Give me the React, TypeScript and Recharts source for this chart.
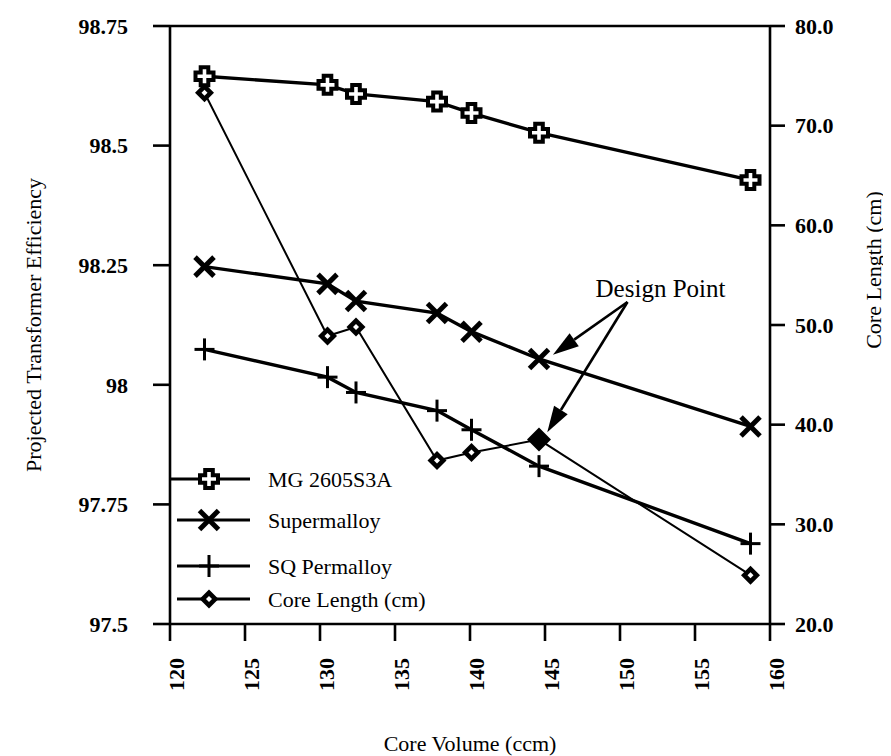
import React from 'react';
import { LineChart, Line, XAxis, YAxis, ReferenceLine, ReferenceDot, Legend } from 'recharts';

// ---- data ----
const coreVolume = [122.3, 130.5, 132.4, 137.8, 140.1, 144.6, 158.7];
const mgEfficiency = [98.645, 98.627, 98.608, 98.592, 98.568, 98.527, 98.428];
const supermalloyEfficiency = [98.247, 98.211, 98.175, 98.15, 98.111, 98.054, 97.913];
const sqPermalloyEfficiency = [98.074, 98.016, 97.984, 97.946, 97.906, 97.83, 97.668];
const coreLength = [73.3, 48.9, 49.8, 36.4, 37.2, 38.5, 24.9];
const designIndex = 5;

const xTicks = [120, 125, 130, 135, 140, 145, 150, 155, 160];
const leftTicks = [97.5, 97.75, 98, 98.25, 98.5, 98.75];
const rightTicks = [20, 30, 40, 50, 60, 70, 80];
const seriesNames = ['MG 2605S3A', 'Supermalloy', 'SQ Permalloy', 'Core Length (cm)'];
const annotationText = 'Design Point';
const annotationOrigin = { x: 150.5, y: 98.173 };
const annotationTextPos = { x: 152.7, y: 98.202 };

const data = coreVolume.map((v, i) => ({
  vol: v,
  mg: mgEfficiency[i],
  sup: supermalloyEfficiency[i],
  sq: sqPermalloyEfficiency[i],
  len: coreLength[i],
}));

const SERIF = '"Liberation Serif", "Times New Roman", serif';
const INK = '#000';

// ---- markers ----
const MgMark = ({ cx, cy }: any) => {
  const a = 3.8, b = 9;
  const d = `M${cx - a},${cy - b} H${cx + a} V${cy - a} H${cx + b} V${cy + a} H${cx + a} V${cy + b} H${cx - a} V${cy + a} H${cx - b} V${cy - a} H${cx - a} Z`;
  return <path d={d} fill="#fff" stroke={INK} strokeWidth={4} strokeLinejoin="miter" />;
};
const XMark = ({ cx, cy }: any) => {
  const s = 9.5;
  return (
    <g stroke={INK} strokeWidth={5} strokeLinecap="butt">
      <line x1={cx - s} y1={cy - s} x2={cx + s} y2={cy + s} />
      <line x1={cx - s} y1={cy + s} x2={cx + s} y2={cy - s} />
    </g>
  );
};
const PlusMark = ({ cx, cy }: any) => (
  <g stroke={INK} strokeWidth={3}>
    <line x1={cx} y1={cy - 11} x2={cx} y2={cy + 11} />
    <line x1={cx - 10} y1={cy} x2={cx + 10} y2={cy} />
  </g>
);
const DiamondMark = ({ cx, cy, solid }: any) => {
  const s = solid ? 12 : 9.5, t = 3;
  return (
    <g>
      <path d={`M${cx},${cy - s} L${cx + s},${cy} L${cx},${cy + s} L${cx - s},${cy} Z`} fill={INK} />
      {!solid && <path d={`M${cx},${cy - t} L${cx + t},${cy} L${cx},${cy + t} L${cx - t},${cy} Z`} fill="#fff" />}
    </g>
  );
};

const renderMg = (p: any) => <MgMark key={`mg-${p.index}`} cx={p.cx} cy={p.cy} />;
const renderX = (p: any) => <XMark key={`x-${p.index}`} cx={p.cx} cy={p.cy} />;
const renderPlus = (p: any) => <PlusMark key={`p-${p.index}`} cx={p.cx} cy={p.cy} />;
const renderDiamond = (p: any) => (
  <DiamondMark key={`d-${p.index}`} cx={p.cx} cy={p.cy} solid={p.index === designIndex} />
);

// ---- ticks ----
const XTick = ({ x, y, payload }: any) => (
  <text
    x={x + 6}
    y={y + 15}
    transform={`rotate(-90, ${x + 6}, ${y + 15})`}
    textAnchor="end"
    dominantBaseline="central"
    fontFamily={SERIF}
    fontWeight="bold"
    fontSize={22}
    fill={INK}
  >
    {payload.value}
  </text>
);

const tickStyle = { fill: INK, fontSize: 22, fontWeight: 'bold', fontFamily: SERIF };

// ---- arrows ----
const Arrow = (p: any) => {
  const { x1, y1, x2, y2 } = p;
  const dx = x2 - x1, dy = y2 - y1;
  const len = Math.sqrt(dx * dx + dy * dy);
  const ux = dx / len, uy = dy / len;
  const hl = 26, hw = 8;
  const bx = x2 - ux * hl, by = y2 - uy * hl;
  return (
    <g>
      <line x1={x1} y1={y1} x2={bx} y2={by} stroke={INK} strokeWidth={2.6} />
      <path
        d={`M${x2},${y2} L${bx - uy * hw},${by + ux * hw} L${bx + uy * hw},${by - ux * hw} Z`}
        fill={INK}
      />
    </g>
  );
};

// ---- legend ----
const legendMarks = [
  (cx: number, cy: number) => <MgMark cx={cx} cy={cy} />,
  (cx: number, cy: number) => <XMark cx={cx} cy={cy} />,
  (cx: number, cy: number) => <PlusMark cx={cx} cy={cy} />,
  (cx: number, cy: number) => <DiamondMark cx={cx} cy={cy} />,
];
const legendRows = [31, 72, 118, 151];
const LegendContent = () => (
  <svg width={330} height={170} style={{ display: 'block' }}>
    {seriesNames.map((name, i) => {
      const y = legendRows[i];
      const x0 = i === 0 ? 12 : 19;
      return (
        <g key={name}>
          <line x1={x0} y1={y} x2={92} y2={y} stroke={INK} strokeWidth={3.2} />
          {legendMarks[i](51, y)}
          <text x={110} y={y} dominantBaseline="central" fontFamily={SERIF} fontSize={22} fill={INK}>
            {name}
          </text>
        </g>
      );
    })}
  </svg>
);

// ---- axis titles ----
const LeftTitle = (props: any) => {
  const vb = props.viewBox;
  const x = vb.x - 77;
  const y = vb.y + vb.height / 2;
  return (
    <text x={x} y={y} transform={`rotate(-90, ${x}, ${y})`} textAnchor="middle" dominantBaseline="central"
      fontFamily={SERIF} fontSize={22} fill={INK}>
      Projected Transformer Efficiency
    </text>
  );
};
const RightTitle = (props: any) => {
  const vb = props.viewBox;
  const x = vb.x + 103;
  const y = vb.y + vb.height / 2 - 55;
  return (
    <text x={x} y={y} transform={`rotate(-90, ${x}, ${y})`} textAnchor="middle" dominantBaseline="central"
      fontFamily={SERIF} fontSize={22} fill={INK}>
      Core Length (cm)
    </text>
  );
};
const BottomTitle = (props: any) => {
  const vb = props.viewBox;
  return (
    <text x={vb.x + vb.width / 2} y={vb.y + 119} textAnchor="middle" dominantBaseline="central"
      fontFamily={SERIF} fontSize={22} fill={INK}>
      Core Volume (ccm)
    </text>
  );
};

const axisLine = { stroke: INK, strokeWidth: 2.6 };

export default function App() {
  return (
    <div style={{ width: 883, height: 748, background: '#fff' }}>
      <LineChart width={883} height={748} data={data} margin={{ top: 18, right: 61, bottom: 72, left: 102 }}>
        <XAxis
          dataKey="vol"
          type="number"
          domain={[120, 160]}
          ticks={xTicks}
          allowDataOverflow
          height={60}
          tickSize={17}
          axisLine={axisLine}
          tickLine={axisLine}
          tick={<XTick />}
          interval={0}
          label={{ value: 'Core Volume (ccm)', content: BottomTitle }}
        />
        <YAxis
          yAxisId="left"
          domain={[97.5, 98.75]}
          ticks={leftTicks}
          allowDataOverflow
          width={60}
          tickSize={17}
          axisLine={axisLine}
          tickLine={axisLine}
          tick={tickStyle}
          tickMargin={25}
          interval={0}
          label={{ value: 'Projected Transformer Efficiency', content: LeftTitle }}
        />
        <YAxis
          yAxisId="right"
          orientation="right"
          domain={[20, 80]}
          ticks={rightTicks}
          allowDataOverflow
          width={60}
          tickSize={15}
          axisLine={axisLine}
          tickLine={axisLine}
          tick={tickStyle}
          tickMargin={10}
          tickFormatter={(v: number) => v.toFixed(1)}
          interval={0}
          label={{ value: 'Core Length (cm)', content: RightTitle }}
        />
        <ReferenceLine yAxisId="left" y={98.75} stroke={INK} strokeWidth={2.6} />
        <Line yAxisId="right" dataKey="len" name={seriesNames[3]} stroke={INK} strokeWidth={2}
          dot={renderDiamond} isAnimationActive={false} type="linear" />
        <Line yAxisId="left" dataKey="sq" name={seriesNames[2]} stroke={INK} strokeWidth={3.4}
          dot={renderPlus} isAnimationActive={false} type="linear" />
        <Line yAxisId="left" dataKey="sup" name={seriesNames[1]} stroke={INK} strokeWidth={3.4}
          dot={renderX} isAnimationActive={false} type="linear" />
        <Line yAxisId="left" dataKey="mg" name={seriesNames[0]} stroke={INK} strokeWidth={3.4}
          dot={renderMg} isAnimationActive={false} type="linear" />
        <ReferenceLine
          yAxisId="left"
          segment={[annotationOrigin, { x: coreVolume[designIndex] + 0.93, y: supermalloyEfficiency[designIndex] + 0.009 }]}
          shape={Arrow}
          ifOverflow="visible"
        />
        <ReferenceLine
          yAxisId="right"
          segment={[
            { x: annotationOrigin.x, y: 20 + (annotationOrigin.y - 97.5) * 48 },
            { x: coreVolume[designIndex] + 0.55, y: coreLength[designIndex] + 0.75 },
          ]}
          shape={Arrow}
          ifOverflow="visible"
        />
        <ReferenceDot
          yAxisId="left"
          x={annotationTextPos.x}
          y={annotationTextPos.y}
          ifOverflow="visible"
          shape={(p: any) => (
            <text x={p.cx} y={p.cy} textAnchor="middle" dominantBaseline="central" fontFamily={SERIF} fontSize={25} fill={INK}>
              {annotationText}
            </text>
          )}
        />
        <Legend
          layout="vertical"
          align="center"
          verticalAlign="middle"
          content={LegendContent}
          wrapperStyle={{ position: 'absolute', left: 150, top: 440, width: 330, height: 170 }}
        />
      </LineChart>
    </div>
  );
}
